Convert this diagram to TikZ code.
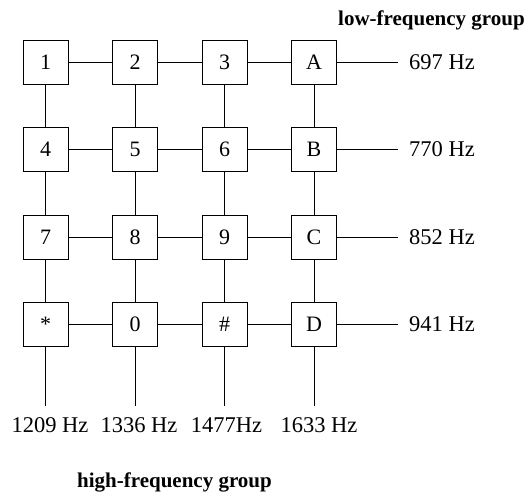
\documentclass[tikz,border=0pt]{standalone}
\usepackage{fontspec}
\setmainfont{Liberation Serif}
\begin{document}
\begin{tikzpicture}[x=1pt,y=-1pt,
  key/.style={draw,line width=0.9pt,minimum width=45pt,minimum height=44pt,inner sep=0pt,font=\fontsize{22}{24}\selectfont},
  wire/.style={line width=0.9pt},
  freq/.style={font=\fontsize{22.5}{24}\selectfont,inner sep=0pt},
  grp/.style={font=\fontsize{21}{22}\selectfont\bfseries,inner sep=0pt}]
\useasboundingbox (0,0) rectangle (531,494);
% columns x: 45.5,135,224.5,314 ; rows y: 62,149.5,237,324.5
\node[key] (k1) at (45.5,62) {1};
\node[key] (k2) at (135,62) {2};
\node[key] (k3) at (224.5,62) {3};
\node[key] (kA) at (314,62) {A};
\node[key] (k4) at (45.5,149.5) {4};
\node[key] (k5) at (135,149.5) {5};
\node[key] (k6) at (224.5,149.5) {6};
\node[key] (kB) at (314,149.5) {B};
\node[key] (k7) at (45.5,237) {7};
\node[key] (k8) at (135,237) {8};
\node[key] (k9) at (224.5,237) {9};
\node[key] (kC) at (314,237) {C};
\node[key] (ks) at (45.5,324.5) {*};
\node[key] (k0) at (135,324.5) {0};
\node[key] (kh) at (224.5,324.5) {\#};
\node[key] (kD) at (314,324.5) {D};
% horizontal wires
\foreach \a/\b in {k1/k2,k2/k3,k3/kA,k4/k5,k5/k6,k6/kB,k7/k8,k8/k9,k9/kC,ks/k0,k0/kh,kh/kD}
  \draw[wire] (\a) -- (\b);
% vertical wires
\foreach \a/\b in {k1/k4,k4/k7,k7/ks,k2/k5,k5/k8,k8/k0,k3/k6,k6/k9,k9/kh,kA/kB,kB/kC,kC/kD}
  \draw[wire] (\a) -- (\b);
% right ends
\coordinate (r1) at (398,62);
\coordinate (r2) at (398,149.5);
\coordinate (r3) at (398,237);
\coordinate (r4) at (398,324.5);
\draw[wire] (kA) -- (r1);
\draw[wire] (kB) -- (r2);
\draw[wire] (kC) -- (r3);
\draw[wire] (kD) -- (r4);
\node[freq,anchor=west] (f1) at (409,62) {697 Hz};
\node[freq,anchor=west] (f2) at (409,149.5) {770 Hz};
\node[freq,anchor=west] (f3) at (409,237) {852 Hz};
\node[freq,anchor=west] (f4) at (409,324.5) {941 Hz};
% bottom ends
\coordinate (b1) at (45.5,406);
\coordinate (b2) at (135,406);
\coordinate (b3) at (224.5,406);
\coordinate (b4) at (314,406);
\draw[wire] (ks) -- (b1);
\draw[wire] (k0) -- (b2);
\draw[wire] (kh) -- (b3);
\draw[wire] (kD) -- (b4);
\node[freq] (h1) at (50,425) {1209 Hz};
\node[freq] (h2) at (139,425) {1336 Hz};
\node[freq] (h3) at (226.5,425) {1477Hz};
\node[freq] (h4) at (319,425) {1633 Hz};
\node[grp,anchor=west] (low) at (338,20) {low-frequency group};
\node[grp] (high) at (174.5,482) {high-frequency group};
\end{tikzpicture}
\end{document}
